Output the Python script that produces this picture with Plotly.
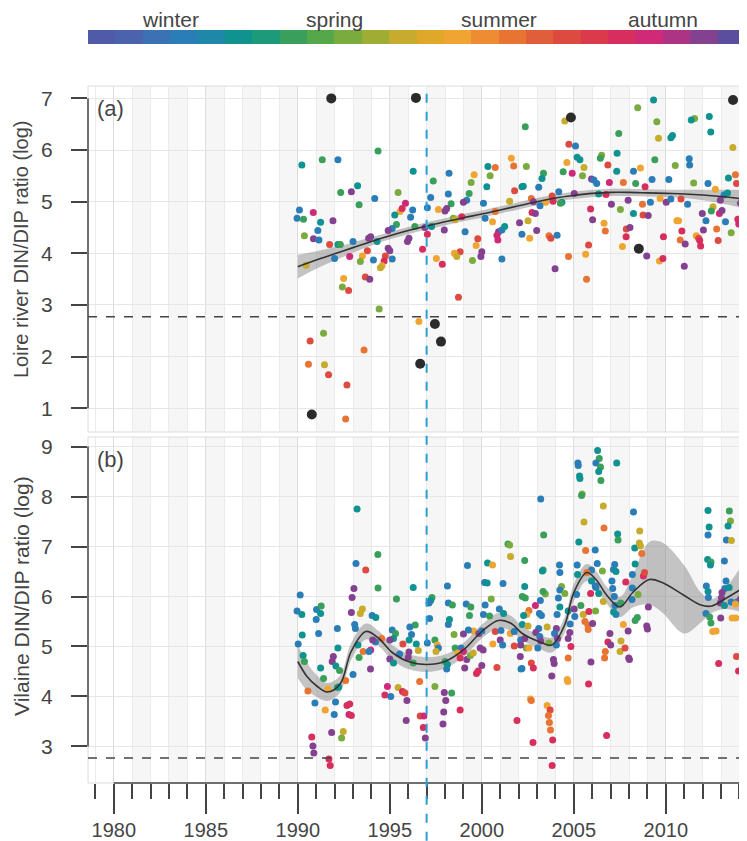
import plotly.graph_objects as go
from plotly.subplots import make_subplots

# colour strip, 24 half-month blocks from January to December
season_colors = [
    "#4f5ba6", "#4a63ab", "#3a72b3", "#2b7db8", "#1f88a8", "#0f9290",
    "#1d9a78", "#3a9f5a", "#55a84a", "#7aab3e", "#a0ad35", "#c6ab2c",
    "#e0a828", "#f0a532", "#ee8c33", "#e87433", "#e05e3a", "#dc4a40",
    "#da3a4a", "#d82e5e", "#cf2a78", "#ad3484", "#844190", "#5c4e9e",
]
season_labels = ["winter", "spring", "summer", "autumn"]

# fraction of the year for each colour seen on the dots
season_code = {"B": 0.14, "T": 0.23, "G": 0.31, "LG": 0.40, "Y": 0.48, "O": 0.56,
               "DO": 0.65, "R": 0.73, "C": 0.80, "M": 0.86, "P": 0.92}

redfield = 2.77   # ln(16)
change_year = 1997

# (a) Loire: year, log DIN/DIP, season colour
loire_points = [
    (1994.36, 5.98, "G"), (1990.22, 5.71, "T"), (1991.33, 5.81, "G"), (1992.18, 5.81, "B"),
    (1996.27, 5.59, "T"), (1997.36, 5.40, "G"), (1998.22, 5.55, "B"), (1999.58, 5.52, "O"),
    (2000.33, 5.68, "T"), (2000.73, 5.66, "DO"), (1999.42, 5.37, "LG"), (2000.45, 5.50, "LG"),
    (2000.27, 5.29, "T"), (2001.60, 5.84, "O"), (2001.73, 5.69, "DO"), (1993.25, 5.31, "T"),
    (1992.91, 5.19, "P"), (1992.33, 5.18, "G"), (1995.45, 5.18, "LG"), (1994.18, 5.06, "B"),
    (1993.33, 4.94, "G"), (1997.22, 5.08, "B"), (1998.18, 5.15, "B"), (1999.31, 5.16, "G"),
    (1999.18, 5.03, "B"), (1998.33, 4.96, "G"), (1999.00, 4.99, "P"), (1995.85, 4.97, "M"),
    (1996.24, 4.84, "B"), (1995.56, 4.81, "O"), (1995.67, 4.87, "C"), (1995.27, 4.74, "T"),
    (1996.13, 4.70, "B"), (1990.09, 4.84, "B"), (1990.84, 4.79, "M"), (1989.96, 4.68, "B"),
    (1990.31, 4.66, "G"), (1991.91, 4.63, "P"), (1991.24, 4.60, "T"), (1997.04, 4.88, "B"),
    (1997.64, 4.85, "O"), (1998.00, 4.82, "P"), (1998.09, 4.87, "P"), (1998.45, 4.68, "LG"),
    (1998.91, 4.71, "C"), (2000.18, 4.68, "B"), (2000.09, 4.97, "B"), (2000.58, 4.61, "O"),
    (2000.73, 4.81, "DO"), (2001.51, 5.01, "Y"), (2001.78, 5.21, "R"), (2002.18, 5.29, "T"),
    (1995.36, 4.56, "G"), (1995.13, 4.48, "B"), (1994.91, 4.44, "P"), (1996.36, 4.52, "G"),
    (1996.91, 4.50, "P"), (1997.27, 4.52, "T"), (1997.04, 4.37, "C"), (1997.96, 4.45, "P"),
    (1999.09, 4.42, "B"), (1998.55, 4.65, "Y"), (2000.91, 4.42, "P"), (2001.09, 4.45, "B"),
    (2001.24, 4.52, "T"), (2000.82, 4.35, "M"), (1991.09, 4.44, "B"), (1990.36, 4.34, "LG"),
    (1990.85, 4.28, "P"), (1991.15, 4.26, "B"), (1991.73, 4.17, "R"), (1992.18, 4.17, "T"),
    (1992.31, 4.17, "G"), (1993.00, 4.23, "B"), (1993.96, 4.32, "P"), (1993.85, 4.29, "P"),
    (1994.31, 4.23, "T"), (1994.91, 4.10, "P"), (1995.00, 4.05, "P"), (1995.96, 4.23, "P"),
    (1996.04, 4.29, "P"), (1996.78, 4.08, "C"), (1999.78, 4.28, "R"), (1999.69, 4.15, "O"),
    (2000.00, 4.03, "P"), (1999.95, 3.94, "P"), (2000.87, 4.26, "M"), (2001.09, 3.89, "B"),
    (1999.49, 3.86, "LG"), (1998.82, 4.03, "R"), (1998.51, 4.00, "O"), (1998.64, 3.94, "Y"),
    (1997.53, 3.90, "O"), (1997.85, 3.79, "C"), (1993.78, 4.05, "R"), (1993.51, 3.95, "O"),
    (1993.40, 3.84, "LG"), (1992.82, 3.94, "M"), (1992.00, 3.90, "B"), (1994.11, 3.87, "B"),
    (1995.13, 3.89, "B"), (1994.76, 3.95, "R"), (1994.69, 3.85, "C"), (1994.58, 3.76, "O"),
    (1994.49, 3.72, "Y"), (1990.45, 3.77, "Y"), (1992.49, 3.51, "O"), (1992.42, 3.35, "LG"),
    (1992.76, 3.28, "R"), (1993.67, 3.54, "R"), (1993.91, 3.50, "P"), (1998.73, 3.15, "R"),
    (1994.42, 2.92, "LG"), (1996.58, 2.68, "O"), (1991.40, 2.45, "LG"), (1990.67, 2.30, "R"),
    (1993.60, 2.13, "DO"), (1990.58, 1.85, "DO"), (1991.45, 1.84, "Y"), (1991.67, 1.65, "R"),
    (1992.67, 1.45, "R"), (1992.60, 0.79, "DO"),
    (2009.33, 6.97, "T"), (2008.47, 6.82, "LG"), (2004.51, 6.56, "Y"), (2011.56, 6.61, "LG"),
    (2011.38, 6.58, "T"), (2012.36, 6.65, "T"), (2009.51, 6.55, "LG"), (2002.36, 6.45, "G"),
    (2012.44, 6.35, "T"), (2007.44, 6.32, "G"), (2010.36, 6.28, "T"), (2010.27, 6.24, "T"),
    (2009.60, 6.23, "Y"), (2004.73, 6.11, "R"), (2005.09, 6.08, "B"), (2013.64, 6.05, "Y"),
    (2006.51, 5.90, "LG"), (2006.44, 5.84, "G"), (2007.35, 5.94, "T"), (2005.18, 5.86, "T"),
    (2005.33, 5.81, "T"), (2004.62, 5.76, "O"), (2005.55, 5.66, "Y"), (2006.85, 5.71, "R"),
    (2008.24, 5.59, "B"), (2008.62, 5.65, "O"), (2009.40, 5.81, "G"), (2011.27, 5.83, "B"),
    (2011.29, 5.71, "B"), (2010.51, 5.70, "LG"), (2004.42, 5.58, "G"), (2004.91, 5.55, "M"),
    (2005.47, 5.50, "LG"), (2003.35, 5.55, "G"), (2003.27, 5.45, "T"), (2002.42, 5.68, "LG"),
    (2005.96, 5.44, "P"), (2006.09, 5.42, "B"), (2006.24, 5.35, "B"), (2006.93, 5.37, "M"),
    (2007.33, 5.59, "T"), (2007.69, 5.37, "DO"), (2008.36, 5.35, "G"), (2008.87, 5.29, "C"),
    (2009.25, 5.43, "B"), (2010.16, 5.43, "B"), (2011.51, 5.36, "LG"), (2012.29, 5.35, "B"),
    (2013.40, 5.46, "T"), (2013.78, 5.52, "DO"), (2013.84, 5.35, "R"), (2012.69, 5.24, "O"),
    (2002.25, 5.30, "T"), (2003.09, 5.28, "B"), (2004.18, 5.19, "B"), (2005.02, 5.16, "P"),
    (2002.69, 5.06, "DO"), (2002.80, 5.00, "P"), (2003.82, 5.11, "R"), (2003.87, 5.01, "C"),
    (2004.35, 4.99, "T"), (2004.27, 4.97, "G"), (2003.47, 4.99, "O"), (2003.16, 4.92, "B"),
    (2006.35, 5.15, "T"), (2006.75, 5.14, "C"), (2007.04, 4.95, "P"), (2007.95, 5.03, "P"),
    (2008.73, 4.95, "DO"), (2009.16, 4.99, "B"), (2009.69, 5.06, "O"), (2010.02, 4.99, "P"),
    (2010.27, 5.05, "B"), (2010.82, 5.05, "R"), (2011.18, 4.95, "B"), (2013.16, 5.13, "B"),
    (2013.35, 5.17, "T"), (2012.96, 5.03, "P"), (2014.05, 4.97, "P"), (2012.56, 4.90, "Y"),
    (2012.47, 4.82, "G"), (2007.53, 4.85, "LG"), (2008.24, 4.77, "T"), (2005.91, 4.86, "C"),
    (2008.76, 4.74, "R"), (2009.04, 4.73, "P"), (2002.73, 4.79, "C"), (2002.91, 4.77, "P"),
    (2002.05, 4.59, "P"), (2002.51, 4.63, "Y"), (2002.18, 4.37, "B"), (2002.60, 4.29, "O"),
    (2002.98, 4.44, "P"), (2003.65, 4.34, "DO"), (2003.75, 4.29, "R"), (2004.09, 4.35, "B"),
    (2006.02, 4.65, "P"), (2006.64, 4.58, "O"), (2006.71, 4.43, "DO"), (2007.85, 4.47, "R"),
    (2008.05, 4.50, "P"), (2007.84, 4.32, "C"), (2009.87, 4.32, "C"), (2010.60, 4.63, "O"),
    (2010.69, 4.63, "O"), (2010.87, 4.43, "C"), (2010.78, 4.26, "DO"), (2011.05, 4.18, "P"),
    (2011.98, 4.77, "P"), (2012.18, 4.63, "B"), (2012.04, 4.45, "P"), (2011.65, 4.34, "O"),
    (2011.78, 4.29, "R"), (2011.84, 4.25, "C"), (2011.89, 4.14, "C"), (2012.76, 4.47, "DO"),
    (2012.84, 4.25, "R"), (2012.91, 4.77, "M"), (2013.05, 4.83, "P"), (2013.24, 4.61, "B"),
    (2013.55, 4.40, "LG"), (2013.91, 4.66, "C"), (2013.96, 4.57, "M"), (2005.80, 4.16, "R"),
    (2005.64, 3.98, "O"), (2004.71, 3.94, "DO"), (2003.98, 3.70, "P"), (2005.69, 3.50, "DO"),
    (2007.64, 4.13, "O"), (2008.96, 3.95, "P"), (2009.65, 3.85, "O"), (2009.84, 3.90, "C"),
    (2011.00, 3.75, "P"),
]

# (a) outliers drawn as large dark dots
loire_outliers = [
    (1991.82, 7.00), (1996.42, 7.01), (1997.45, 2.63), (1997.78, 2.29), (1996.65, 1.86),
    (1990.76, 0.88), (2013.65, 6.97), (2004.84, 6.63), (2008.53, 4.09),
]

# (b) Vilaine: year, log DIN/DIP, season colour
vilaine_points = [
    (1993.22, 7.75, "T"), (2001.42, 7.05, "G"), (2001.51, 7.03, "LG"), (2001.56, 6.80, "Y"),
    (1994.35, 6.84, "G"), (1993.16, 6.66, "B"), (1993.69, 6.53, "R"), (1999.22, 6.62, "B"),
    (2000.31, 6.67, "T"), (2000.58, 6.63, "O"), (1994.36, 6.17, "G"), (1996.27, 6.18, "T"),
    (1998.13, 6.21, "B"), (1993.05, 6.16, "P"), (1992.95, 5.98, "P"), (1990.13, 6.03, "B"),
    (2000.15, 6.28, "B"), (2000.29, 6.27, "T"), (2001.15, 6.26, "B"), (1995.36, 5.95, "G"),
    (1997.29, 5.98, "G"), (1997.22, 5.92, "T"), (1997.13, 5.87, "B"), (1998.18, 5.87, "B"),
    (1998.40, 5.83, "G"), (1999.15, 5.85, "B"), (1999.40, 5.79, "G"), (2000.51, 5.95, "LG"),
    (2000.18, 5.83, "B"), (1993.51, 5.75, "Y"), (1993.40, 5.66, "Y"), (1992.91, 5.68, "P"),
    (1989.96, 5.71, "B"), (1990.22, 5.64, "T"), (1991.02, 5.74, "B"), (1991.27, 5.81, "G"),
    (1991.24, 5.66, "T"), (1991.00, 5.54, "B"), (1994.04, 5.62, "B"), (1994.24, 5.58, "T"),
    (1996.38, 5.43, "G"), (1996.09, 5.39, "B"), (1997.16, 5.56, "B"), (1998.18, 5.44, "B"),
    (1998.24, 5.54, "T"), (1999.33, 5.62, "G"), (2000.09, 5.64, "B"), (2000.42, 5.61, "G"),
    (2000.95, 5.75, "B"), (2001.18, 5.66, "T"), (1992.15, 5.36, "B"), (1993.09, 5.44, "B"),
    (1993.13, 5.36, "B"), (1990.24, 5.23, "T"), (1991.13, 5.26, "B"), (1995.13, 5.33, "B"),
    (1995.31, 5.26, "G"), (1995.20, 5.16, "T"), (1995.00, 5.13, "P"), (1996.18, 5.24, "B"),
    (1996.05, 5.13, "T"), (1994.56, 5.16, "DO"), (1994.22, 5.09, "B"), (1994.07, 5.13, "P"),
    (1998.49, 5.24, "LG"), (1999.00, 5.25, "P"), (1999.55, 5.31, "O"), (1999.27, 5.33, "B"),
    (1999.84, 5.26, "P"), (2000.00, 5.31, "B"), (2000.73, 5.30, "R"), (2001.04, 5.32, "B"),
    (2001.55, 5.26, "O"), (2001.76, 5.30, "B"), (1990.02, 5.05, "B"), (1992.18, 4.97, "T"),
    (1993.27, 5.03, "T"), (1993.55, 4.90, "DO"), (1993.96, 4.93, "M"), (1993.87, 4.90, "B"),
    (1995.71, 5.05, "R"), (1996.44, 5.05, "T"), (1996.55, 4.92, "Y"), (1997.04, 5.07, "B"),
    (1997.45, 5.13, "G"), (1997.58, 5.03, "O"), (1997.64, 4.97, "B"), (1997.51, 4.90, "Y"),
    (1996.04, 4.89, "P"), (1996.00, 4.78, "P"), (1995.00, 4.75, "P"), (1995.53, 4.85, "B"),
    (1996.27, 4.67, "G"), (1995.20, 4.67, "T"), (1998.55, 4.97, "G"), (1998.87, 4.97, "B"),
    (1998.69, 4.87, "O"), (1999.00, 4.90, "M"), (1998.82, 4.77, "C"), (1999.18, 4.74, "P"),
    (1999.38, 4.82, "LG"), (1999.53, 4.87, "Y"), (1999.91, 4.97, "P"), (2000.07, 4.93, "P"),
    (2000.60, 5.05, "O"), (2001.00, 5.13, "P"), (2001.13, 5.03, "B"), (2001.76, 5.01, "R"),
    (2002.11, 5.13, "B"), (1990.29, 4.82, "T"), (1990.36, 4.70, "G"), (1991.93, 4.80, "P"),
    (1991.87, 4.70, "P"), (1993.33, 4.78, "G"), (1992.07, 4.61, "T"), (1992.27, 4.52, "G"),
    (1991.24, 4.57, "T"), (1991.40, 4.36, "G"), (1993.95, 4.55, "P"), (1993.00, 4.44, "B"),
    (1998.00, 4.70, "G"), (1998.09, 4.55, "B"), (1998.13, 4.64, "T"), (1999.07, 4.57, "P"),
    (2000.00, 4.62, "P"), (1999.80, 4.51, "C"), (1999.71, 4.46, "C"), (2000.82, 4.58, "R"),
    (2002.09, 4.80, "P"), (2002.13, 4.55, "T"), (1990.55, 4.11, "DO"), (1991.64, 4.15, "O"),
    (1992.60, 4.32, "DO"), (1992.15, 4.18, "G"), (1992.22, 4.19, "T"), (1990.93, 3.87, "B"),
    (1992.05, 3.89, "B"), (1992.67, 3.82, "C"), (1992.82, 3.85, "C"), (1992.78, 3.64, "M"),
    (1992.91, 3.62, "C"), (1991.49, 3.73, "O"), (1991.98, 3.64, "B"), (1994.87, 4.20, "M"),
    (1994.73, 4.03, "C"), (1995.05, 4.00, "B"), (1995.45, 4.18, "Y"), (1995.69, 4.10, "C"),
    (1995.82, 4.07, "R"), (1995.93, 3.92, "P"), (1995.89, 3.52, "P"), (1996.62, 4.30, "DO"),
    (1997.45, 4.20, "LG"), (1997.96, 4.08, "P"), (1998.36, 4.07, "G"), (1998.04, 3.92, "P"),
    (1997.93, 3.69, "P"), (1997.89, 3.45, "P"), (1998.82, 3.73, "C"), (1996.65, 3.61, "R"),
    (1996.85, 3.61, "M"), (1996.82, 3.38, "C"), (1996.93, 3.17, "P"), (2001.91, 3.52, "C"),
    (1990.76, 3.19, "C"), (1990.82, 3.01, "P"), (1990.87, 2.87, "P"), (1991.84, 3.28, "P"),
    (1992.47, 3.30, "Y"), (1992.38, 3.17, "LG"), (1991.69, 2.75, "C"), (1991.76, 2.62, "C"),
    (2006.29, 8.92, "T"), (2006.38, 8.76, "G"), (2006.20, 8.67, "B"), (2005.22, 8.67, "B"),
    (2005.24, 8.62, "B"), (2006.45, 8.59, "G"), (2006.35, 8.50, "T"), (2006.47, 8.32, "G"),
    (2007.33, 8.67, "T"), (2005.31, 8.41, "T"), (2005.33, 8.36, "T"), (2005.45, 8.05, "LG"),
    (2005.42, 8.02, "G"), (2003.20, 7.95, "B"), (2006.60, 7.81, "Y"), (2008.24, 7.69, "B"),
    (2005.55, 7.49, "Y"), (2006.64, 7.37, "DO"), (2008.58, 7.31, "Y"), (2007.38, 7.25, "T"),
    (2007.40, 7.13, "G"), (2003.36, 7.23, "G"), (2005.27, 7.09, "T"), (2005.64, 6.92, "DO"),
    (2006.16, 6.93, "B"), (2008.31, 6.97, "T"), (2008.56, 7.07, "Y"), (2008.62, 7.01, "Y"),
    (2008.69, 6.86, "DO"), (2002.33, 6.72, "G"), (2004.22, 6.63, "B"), (2004.24, 6.48, "B"),
    (2003.33, 6.53, "G"), (2003.29, 6.51, "T"), (2005.18, 6.63, "B"), (2005.20, 6.44, "T"),
    (2006.27, 6.66, "B"), (2006.55, 6.51, "LG"), (2005.96, 6.53, "B"), (2005.71, 6.48, "DO"),
    (2005.96, 6.31, "T"), (2006.16, 6.21, "B"), (2006.20, 6.18, "B"), (2007.22, 6.64, "B"),
    (2007.15, 6.54, "B"), (2007.29, 6.50, "T"), (2008.33, 6.65, "T"), (2008.18, 6.44, "B"),
    (2008.78, 6.41, "C"), (2008.84, 6.48, "R"), (2002.33, 6.20, "T"), (2002.20, 6.00, "G"),
    (2002.36, 5.97, "G"), (2003.18, 5.92, "B"), (2003.45, 6.05, "LG"), (2003.33, 6.10, "G"),
    (2004.33, 6.20, "LG"), (2004.24, 6.13, "B"), (2004.51, 6.06, "LG"), (2004.16, 5.97, "B"),
    (2005.15, 6.04, "B"), (2005.91, 6.06, "C"), (2006.35, 6.06, "T"), (2006.60, 5.90, "Y"),
    (2007.07, 6.31, "B"), (2007.11, 6.16, "B"), (2007.20, 6.00, "B"), (2007.82, 6.29, "C"),
    (2008.18, 6.17, "B"), (2008.16, 5.94, "B"), (2008.49, 6.04, "LG"), (2007.55, 5.87, "G"),
    (2007.24, 5.82, "B"), (2007.29, 5.64, "B"), (2007.16, 5.69, "T"), (2002.91, 5.82, "M"),
    (2003.13, 5.66, "B"), (2003.24, 5.62, "B"), (2002.56, 5.72, "DO"), (2002.44, 5.64, "O"),
    (2002.27, 5.62, "T"), (2002.20, 5.44, "T"), (2002.51, 5.41, "Y"), (2003.09, 5.36, "B"),
    (2002.93, 5.28, "P"), (2003.55, 5.39, "Y"), (2004.24, 5.79, "T"), (2004.09, 5.64, "B"),
    (2004.69, 5.71, "T"), (2005.02, 5.75, "P"), (2005.38, 5.82, "G"), (2005.05, 5.60, "B"),
    (2005.51, 5.64, "Y"), (2005.60, 5.50, "DO"), (2005.76, 5.43, "DO"), (2005.82, 5.70, "C"),
    (2006.18, 5.71, "LG"), (2006.02, 5.46, "P"), (2005.78, 5.34, "DO"), (2004.80, 5.45, "B"),
    (2004.78, 5.28, "P"), (2004.69, 5.16, "P"), (2004.84, 5.00, "C"), (2004.05, 5.36, "P"),
    (2003.95, 5.26, "B"), (2004.11, 5.16, "P"), (2003.65, 5.07, "LG"), (2004.05, 5.03, "B"),
    (2003.15, 5.20, "B"), (2003.20, 5.11, "P"), (2003.04, 4.97, "B"), (2002.33, 5.16, "P"),
    (2002.42, 4.97, "LG"), (2002.11, 5.03, "P"), (2002.56, 4.97, "O"), (2002.69, 4.67, "R"),
    (2002.80, 4.57, "C"), (2002.18, 4.56, "B"), (2003.89, 4.74, "P"), (2003.93, 4.66, "P"),
    (2003.80, 4.41, "P"), (2004.69, 4.77, "DO"), (2004.64, 4.34, "O"), (2004.67, 4.30, "O"),
    (2005.93, 4.69, "P"), (2005.80, 4.25, "C"), (2006.96, 5.26, "P"), (2006.85, 5.09, "C"),
    (2007.00, 5.03, "P"), (2006.71, 4.90, "DO"), (2006.67, 4.77, "DO"), (2007.56, 5.11, "Y"),
    (2007.51, 4.90, "Y"), (2007.78, 4.97, "R"), (2007.98, 4.77, "P"), (2008.02, 4.74, "P"),
    (2007.69, 5.44, "O"), (2007.95, 5.31, "P"), (2008.45, 5.58, "G"), (2008.33, 5.52, "G"),
    (2008.96, 5.41, "P"), (2009.00, 5.35, "P"), (2009.05, 5.79, "P"), (2012.20, 6.21, "B"),
    (2012.29, 6.10, "T"), (2012.31, 5.98, "B"), (2012.18, 5.66, "B"), (2012.38, 5.59, "G"),
    (2012.45, 5.47, "G"), (2012.55, 5.30, "O"), (2012.73, 5.31, "O"), (2012.87, 4.66, "C"),
    (2012.29, 7.72, "T"), (2012.35, 7.39, "T"), (2012.29, 7.23, "B"), (2012.27, 6.74, "T"),
    (2012.45, 6.69, "G"), (2012.42, 6.63, "T"), (2013.45, 7.71, "G"), (2013.51, 7.51, "LG"),
    (2013.38, 7.41, "T"), (2013.29, 7.13, "B"), (2013.56, 7.12, "Y"), (2013.18, 6.71, "B"),
    (2013.27, 6.31, "B"), (2013.20, 6.16, "B"), (2013.05, 6.08, "P"), (2013.44, 6.18, "T"),
    (2013.02, 5.97, "P"), (2012.96, 5.87, "P"), (2013.18, 5.82, "T"), (2013.55, 5.89, "B"),
    (2013.87, 5.89, "B"), (2014.05, 5.95, "P"), (2014.15, 5.98, "P"), (2013.78, 5.85, "O"),
    (2012.98, 5.57, "P"), (2013.60, 5.57, "O"), (2013.80, 5.57, "O"), (2013.84, 4.80, "R"),
    (2013.95, 4.51, "C"), (2002.64, 3.95, "O"), (2002.69, 3.92, "DO"), (2003.55, 3.82, "O"),
    (2003.71, 3.73, "R"), (2003.62, 3.62, "DO"), (2003.67, 3.48, "DO"), (2003.73, 3.33, "DO"),
    (2003.85, 3.13, "C"), (2002.78, 3.08, "C"), (2006.78, 3.22, "C"), (2003.82, 2.62, "C"),
]

# smoothed trend with confidence band, (a)
fit_a_year = list(range(1990, 2015))
fit_a = [3.74, 3.87, 3.99, 4.11, 4.23, 4.34, 4.44, 4.53, 4.61, 4.69, 4.76, 4.84, 4.92,
         5.00, 5.07, 5.12, 5.16, 5.18, 5.18, 5.17, 5.16, 5.15, 5.13, 5.10, 5.06]
fit_a_lo = [3.51, 3.70, 3.86, 4.01, 4.15, 4.27, 4.37, 4.46, 4.54, 4.62, 4.69, 4.77, 4.85,
            4.93, 5.00, 5.05, 5.09, 5.11, 5.11, 5.10, 5.09, 5.07, 5.03, 4.97, 4.89]
fit_a_hi = [3.97, 4.04, 4.12, 4.21, 4.31, 4.41, 4.51, 4.60, 4.68, 4.76, 4.83, 4.91, 4.99,
            5.07, 5.14, 5.19, 5.23, 5.25, 5.25, 5.24, 5.23, 5.23, 5.23, 5.23, 5.23]

# smoothed trend with confidence band, (b)
fit_b_year = [1990, 1990.5, 1991, 1991.6, 1992.3, 1992.9, 1993.7, 1994.4, 1995.1, 1996,
              1997, 1998, 1999, 2000, 2000.9, 2001.6, 2002.2, 2003.1, 2003.8, 2004.5,
              2005, 2005.7, 2006.2, 2006.8, 2007.5, 2008.2, 2009.1, 2009.8, 2011,
              2011.9, 2012.5, 2013.2, 2014.1]
fit_b = [4.70, 4.40, 4.22, 4.09, 4.25, 4.90, 5.30, 5.16, 4.89, 4.70, 4.64, 4.70, 4.93,
         5.30, 5.52, 5.46, 5.26, 5.10, 5.03, 5.43, 6.08, 6.48, 6.34, 6.02, 5.79, 6.08,
         6.34, 6.28, 6.02, 5.83, 5.81, 5.95, 6.15]
fit_b_lo = [4.37, 4.12, 4.00, 3.91, 4.08, 4.73, 5.14, 5.01, 4.74, 4.55, 4.49, 4.56, 4.79,
            5.16, 5.37, 5.31, 5.12, 4.96, 4.88, 5.27, 5.91, 6.31, 6.17, 5.85, 5.59, 5.78,
            5.84, 5.68, 5.26, 5.48, 5.67, 5.75, 5.69]
fit_b_hi = [5.03, 4.68, 4.44, 4.27, 4.42, 5.07, 5.46, 5.31, 5.04, 4.85, 4.79, 4.84, 5.07,
            5.44, 5.67, 5.61, 5.40, 5.24, 5.18, 5.59, 6.25, 6.65, 6.51, 6.19, 5.99, 6.43,
            7.09, 7.08, 6.62, 6.08, 5.95, 6.15, 6.61]

x_range = [1978.6, 2014.3]
ya_range = [0.54, 7.24]
yb_range = [2.27, 9.19]

FONT = "Liberation Sans, Arial, sans-serif"
TXT = "#454545"

colorscale = []
for i, c in enumerate(season_colors):
    colorscale.append([i / len(season_colors), c])
    colorscale.append([(i + 1) / len(season_colors), c])


def split(points):
    xs = [p[0] for p in points]
    ys = [p[1] for p in points]
    cs = [season_code[p[2]] for p in points]
    return xs, ys, cs


fig = make_subplots(rows=2, cols=1, shared_xaxes=True, vertical_spacing=0.0072)


def add_band(years, lo, hi, row):
    fig.add_trace(go.Scatter(x=years, y=hi, mode="lines", line=dict(width=0, shape="spline"),
                             hoverinfo="skip", showlegend=False), row=row, col=1)
    fig.add_trace(go.Scatter(x=years, y=lo, mode="lines", line=dict(width=0, shape="spline"),
                             fill="tonexty", fillcolor="rgba(125,125,125,0.45)",
                             hoverinfo="skip", showlegend=False), row=row, col=1)


add_band(fit_a_year, fit_a_lo, fit_a_hi, 1)
add_band(fit_b_year, fit_b_lo, fit_b_hi, 2)

ax, ay, ac = split(loire_points)
fig.add_trace(go.Scatter(
    x=ax, y=ay, mode="markers", showlegend=False,
    marker=dict(size=7, color=ac, colorscale=colorscale, cmin=0, cmax=1,
                showscale=True,
                colorbar=dict(orientation="h", x=0.5, xanchor="center",
                              y=(775 - 29) / 697, yanchor="middle", thickness=14,
                              len=1, lenmode="fraction", xpad=0, ypad=0,
                              outlinewidth=0, showticklabels=False, ticks="")),
), row=1, col=1)

fig.add_trace(go.Scatter(
    x=[p[0] for p in loire_outliers], y=[p[1] for p in loire_outliers],
    mode="markers", showlegend=False, marker=dict(size=10, color="#2b2b2b"),
), row=1, col=1)

bx, by, bc = split(vilaine_points)
fig.add_trace(go.Scatter(
    x=bx, y=by, mode="markers", showlegend=False,
    marker=dict(size=7, color=bc, colorscale=colorscale, cmin=0, cmax=1, showscale=False),
), row=2, col=1)

fig.add_trace(go.Scatter(x=fit_a_year, y=fit_a, mode="lines", showlegend=False,
                         line=dict(color="#333333", width=1.6, shape="spline")), row=1, col=1)
fig.add_trace(go.Scatter(x=fit_b_year, y=fit_b, mode="lines", showlegend=False,
                         line=dict(color="#333333", width=1.6, shape="spline")), row=2, col=1)

shapes = []
# alternating year stripes and light panel frame
for xr, yr in [("x", "y domain"), ("x2", "y2 domain")]:
    for yy in range(1981, 2014, 2):
        shapes.append(dict(type="rect", xref=xr, yref=yr, x0=yy, x1=yy + 1, y0=0, y1=1,
                           fillcolor="#f6f6f6", line=dict(width=0), layer="below"))
    shapes.append(dict(type="rect", xref=xr + " domain", yref=yr, x0=0, x1=1, y0=0, y1=1,
                       line=dict(color="#dcdcdc", width=1), layer="below"))

# Redfield ratio
for xr, yr in [("x domain", "y"), ("x2 domain", "y2")]:
    shapes.append(dict(type="line", xref=xr, yref=yr, x0=0, x1=1, y0=redfield, y1=redfield,
                       line=dict(color="#444444", width=1.5, dash="dash")))

# capped axis lines
shapes.append(dict(type="line", xref="x domain", yref="y", x0=0, x1=0, y0=1, y1=7,
                   line=dict(color="#444444", width=1.5)))
shapes.append(dict(type="line", xref="x2 domain", yref="y2", x0=0, x1=0, y0=3, y1=9,
                   line=dict(color="#444444", width=1.5)))
shapes.append(dict(type="line", xref="x2", yref="y2 domain", x0=1980, x1=x_range[1], y0=0, y1=0,
                   line=dict(color="#444444", width=1.5)))

# change point
shapes.append(dict(type="line", xref="x2", yref="paper", x0=change_year, x1=change_year,
                   y0=-0.083, y1=1.0, line=dict(color="#2a9fd6", width=2, dash="dash")))

annotations = [
    dict(text="(a)", xref="x domain", yref="y domain", x=0.011, y=0.936,
         xanchor="left", yanchor="middle", showarrow=False, font=dict(size=22, color=TXT)),
    dict(text="(b)", xref="x2 domain", yref="y2 domain", x=0.011, y=0.934,
         xanchor="left", yanchor="middle", showarrow=False, font=dict(size=22, color=TXT)),
    dict(text="Loire river DIN/DIP ratio (log)", xref="paper", yref="paper",
         x=-67 / 657, y=(775 - 242) / 697, textangle=-90, xanchor="center",
         yanchor="middle", showarrow=False, font=dict(size=20, color=TXT)),
    dict(text="Vilaine DIN/DIP ratio (log)", xref="paper", yref="paper",
         x=-67 / 657, y=(775 - 588) / 697, textangle=-90, xanchor="center",
         yanchor="middle", showarrow=False, font=dict(size=21, color=TXT)),
]
for i, lab in enumerate(season_labels):
    annotations.append(dict(text=lab, xref="paper", yref="paper", x=(2 * i + 1) / 8,
                            y=(775 - 12) / 697, xanchor="center", yanchor="middle",
                            showarrow=False, font=dict(size=21, color=TXT)))

# the page adds an 8 px body margin, so the figure is 8 px smaller than the window
fig.update_layout(
    width=739, height=833,
    margin=dict(l=80, r=2, t=78, b=58, autoexpand=False),
    plot_bgcolor="white", paper_bgcolor="white",
    font=dict(family=FONT, color=TXT, size=19),
    shapes=shapes, annotations=annotations,
)

xgrid = dict(range=x_range, showline=False, zeroline=False, showgrid=True,
             tick0=1980, dtick=5, gridcolor="#dcdcdc", gridwidth=1)
fig.update_xaxes(**xgrid, showticklabels=False, ticks="",
                 minor=dict(tick0=1980, dtick=1, showgrid=True, gridcolor="#ebebeb", ticks=""),
                 row=1, col=1)
fig.update_xaxes(**xgrid, ticks="outside", ticklen=30, tickwidth=1.5, tickcolor="#444444",
                 tickfont=dict(size=20, color=TXT), ticklabelstandoff=-1,
                 minor=dict(tick0=1980, dtick=1, showgrid=True, gridcolor="#ebebeb",
                            ticks="outside", ticklen=15, tickwidth=1.5, tickcolor="#444444"),
                 row=2, col=1)

ycommon = dict(showline=False, zeroline=False, showgrid=True, gridcolor="#e6e6e6",
               ticks="outside", ticklen=16, tickwidth=1.5, tickcolor="#444444",
               tickfont=dict(size=21, color=TXT), ticklabelstandoff=14, automargin=False)
fig.update_yaxes(**ycommon, range=ya_range, tickvals=[1, 2, 3, 4, 5, 6, 7], row=1, col=1)
fig.update_yaxes(**ycommon, range=yb_range, tickvals=[3, 4, 5, 6, 7, 8, 9], row=2, col=1)

fig.write_html("out.html")
